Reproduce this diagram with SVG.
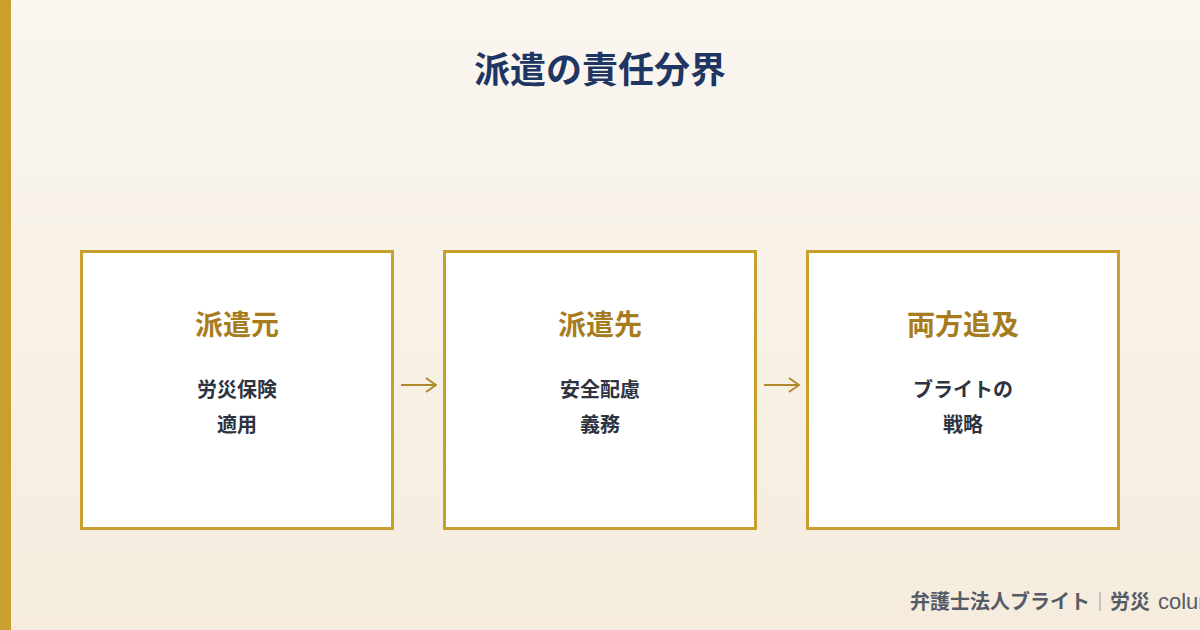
<svg xmlns="http://www.w3.org/2000/svg" width="1200" height="630" viewBox="0 0 1200 630">
<defs>
<linearGradient id="bg" x1="0" y1="0" x2="0" y2="1">
<stop offset="0" stop-color="#FAF6F0"/>
<stop offset="1" stop-color="#F5ECDD"/>
</linearGradient>
<marker id="arr" viewBox="0 0 12 16" refX="11" refY="8" markerWidth="12" markerHeight="16" markerUnits="userSpaceOnUse" orient="auto">
<path d="M1,1 L11,8 L1,15" fill="none" stroke="#B08A2A" stroke-width="2"/>
</marker>
</defs>
<style>
.box{fill:#FFFFFF;stroke:#C9A02E;stroke-width:3}
.hd{font-family:"Noto Sans CJK JP","Noto Sans",sans-serif;font-weight:700;font-size:28px;fill:#A67C1E;text-anchor:middle}
.bd{font-family:"Noto Sans CJK JP","Noto Sans",sans-serif;font-weight:700;font-size:20px;fill:#2D3340;text-anchor:middle}
.cn{stroke:#B08A2A;stroke-width:2;fill:none}
</style>
<rect width="1200" height="630" fill="url(#bg)"/>
<rect x="0" y="0" width="11" height="630" fill="#C9A02E"/>
<text x="600" y="83" font-family="'Noto Sans CJK JP','Noto Sans',sans-serif" font-weight="700" font-size="36" fill="#1F3563" text-anchor="middle">派遣の責任分界</text>
<g id="node1">
<rect class="box" x="81.5" y="251.5" width="311" height="277"/>
<text class="hd" x="237" y="335">派遣元</text>
<text class="bd" x="237" y="397">労災保険</text>
<text class="bd" x="237" y="432">適用</text>
</g>
<g id="node2">
<rect class="box" x="444.5" y="251.5" width="311" height="277"/>
<text class="hd" x="600" y="335">派遣先</text>
<text class="bd" x="600" y="397">安全配慮</text>
<text class="bd" x="600" y="432">義務</text>
</g>
<g id="node3">
<rect class="box" x="807.5" y="251.5" width="311" height="277"/>
<text class="hd" x="963" y="335">両方追及</text>
<text class="bd" x="963" y="397">ブライトの</text>
<text class="bd" x="963" y="432">戦略</text>
</g>
<g id="connectors">
<line class="cn" x1="401" y1="385" x2="436" y2="385" marker-end="url(#arr)"/>
<line class="cn" x1="764" y1="385" x2="799" y2="385" marker-end="url(#arr)"/>
</g>
<g id="footer" font-family="'Noto Sans CJK JP','Noto Sans',sans-serif" font-weight="700" font-size="20" fill="#555B66">
<text x="910" y="609">弁護士法人ブライト</text>
<line x1="1100" y1="592" x2="1100" y2="611" stroke="#B5B5B5" stroke-width="1.5"/>
<text x="1110" y="609">労災<tspan x="1158" font-family="'Liberation Sans',sans-serif" font-weight="400" font-size="22">column</tspan></text>
</g>
</svg>
